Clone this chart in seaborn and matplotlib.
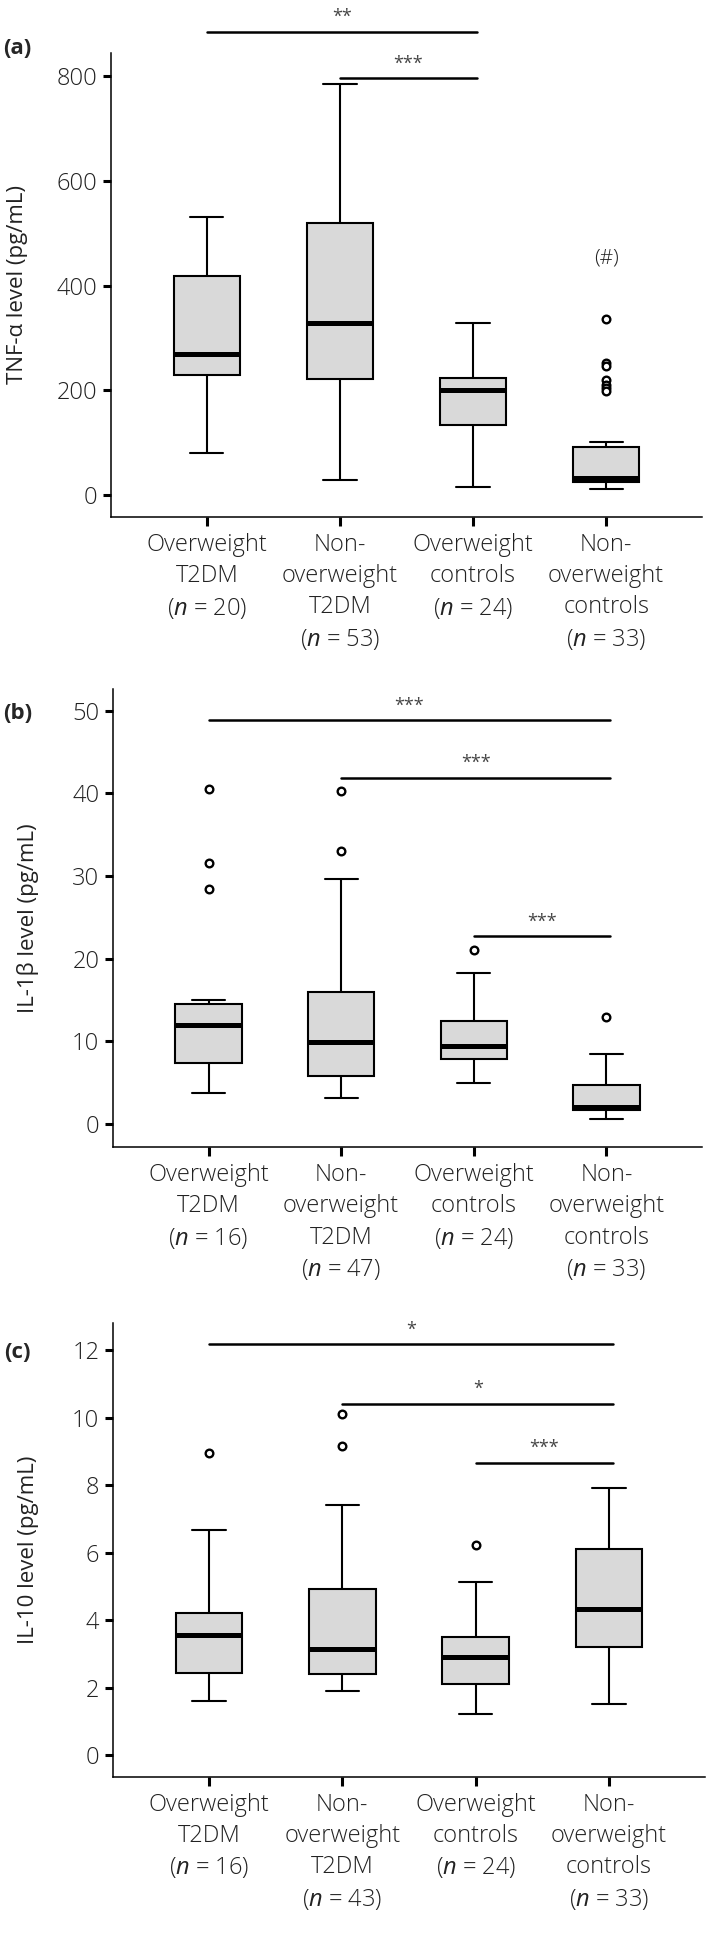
import matplotlib
matplotlib.use("Agg")
import matplotlib.pyplot as plt
import seaborn as sns
import pandas as pd

# group names (n is added per panel)
group_names = ["Overweight\nT2DM", "Non-\noverweight\nT2DM",
               "Overweight\ncontrols", "Non-\noverweight\ncontrols"]

# (a) TNF-alpha: lower whisker, Q1, median, Q3, upper whisker
tnf_n = [20, 53, 24, 33]
tnf_box = [[81, 230, 269, 418, 531],
           [28, 221, 328, 520, 786],
           [15, 134, 200, 224, 328],
           [11, 25, 33, 91, 101]]
tnf_out = [[], [], [], [337, 252, 247, 219, 211, 204, 198]]
tnf_ticks = [0, 200, 400, 600, 800]
tnf_sig = [(0, 2, 885, "**"), (1, 2, 796, "***")]

# (b) IL-1beta
il1b_n = [16, 47, 24, 33]
il1b_box = [[3.75, 7.4, 12.0, 14.5, 15.0],
            [3.2, 5.8, 9.9, 16.0, 29.6],
            [5.0, 7.9, 9.4, 12.5, 18.3],
            [0.6, 1.65, 2.1, 4.75, 8.5]]
il1b_out = [[40.5, 31.6, 28.4], [40.3, 33.0], [21.0], [13.0]]
il1b_ticks = [0, 10, 20, 30, 40, 50]
il1b_sig = [(0, 3, 48.8, "***"), (1, 3, 41.9, "***"), (2, 3, 22.7, "***")]

# (c) IL-10
il10_n = [16, 43, 24, 33]
il10_box = [[1.61, 2.42, 3.57, 4.22, 6.66],
            [1.91, 2.40, 3.16, 4.92, 7.40],
            [1.22, 2.10, 2.92, 3.51, 5.12],
            [1.52, 3.21, 4.32, 6.11, 7.92]]
il10_out = [[8.97], [10.12, 9.17], [6.22], []]
il10_ticks = [0, 2, 4, 6, 8, 10, 12]
il10_sig = [(0, 3, 12.18, "*"), (1, 3, 10.42, "*"), (2, 3, 8.67, "***")]

sns.set_theme(style="ticks")
plt.rcParams["font.family"] = ["Open Sans", "DejaVu Sans"]
plt.rcParams["mathtext.fontset"] = "custom"
plt.rcParams["mathtext.it"] = "Open Sans:italic"
plt.rcParams["mathtext.rm"] = "Open Sans"

W, H = 709, 1942
fig = plt.figure(figsize=(W / 100, H / 100), dpi=100)


def add_axes(left, right, top, bottom):
    return fig.add_axes([left / W, 1 - bottom / H, (right - left) / W, (bottom - top) / H])


def draw_panel(ax, box, outliers, n, yticks, ylim, ylabel, sig, tag, tag_y, ylabel_x):
    labels = [f"{g}\n($\\mathit{{n}}$ = {k})" for g, k in zip(group_names, n)]
    df = pd.DataFrame({"group": [l for l, b in zip(labels, box) for _ in b],
                       "value": [v for b in box for v in b]})
    sns.boxplot(data=df, x="group", y="value", order=labels, whis=(0, 100),
                width=0.5, color="#d9d9d9", saturation=1, linecolor="black",
                linewidth=1.5, fliersize=0, medianprops={"linewidth": 3.6}, ax=ax)
    out = pd.DataFrame({"group": [l for l, o in zip(labels, outliers) for _ in o],
                        "value": [v for o in outliers for v in o]})
    sns.stripplot(data=out, x="group", y="value", order=labels, jitter=False,
                  size=5.5, color="white", edgecolor="black", linewidth=1.7, ax=ax)

    for i, j, y, stars in sig:
        ax.plot([i, j + 0.03], [y, y], color="black", lw=1.8, clip_on=False)
        ax.annotate(stars, xy=((i + j + 0.03) / 2, y), xytext=(0, 7),
                    textcoords="offset points", ha="center", va="baseline",
                    fontsize=13, color="#444444", annotation_clip=False)

    ax.set_xlim(-0.72, 3.72)
    ax.set_ylim(*ylim)
    ax.set_yticks(yticks)
    ax.set_xlabel("")
    ax.set_ylabel(ylabel, fontsize=16, color="#222222")
    ax.yaxis.set_label_coords(ylabel_x, 0.5)
    ax.yaxis.label.set_va("center")
    sns.despine(ax=ax)
    for s in ["left", "bottom"]:
        ax.spines[s].set_linewidth(1.1)
        ax.spines[s].set_color("black")
    ax.tick_params(axis="y", length=5.8, width=2.2, pad=4, labelsize=17,
                   colors="black", labelcolor="#222222")
    ax.tick_params(axis="x", length=6.5, width=2.2, pad=5, labelsize=17,
                   colors="black", labelcolor="#222222")
    for lbl in ax.get_xticklabels() + ax.get_yticklabels():
        lbl.set_fontweight("light")
    for lbl in ax.get_xticklabels():
        lbl.set_linespacing(1.4)
    fig.text(17.5 / W, 1 - tag_y / H, tag, fontsize=16, fontweight="bold",
             ha="center", va="center")


ax_a = add_axes(111, 702, 52.7, 517)
draw_panel(ax_a, tnf_box, tnf_out, tnf_n, tnf_ticks, (-42, 845),
           "TNF-α level (pg/mL)", tnf_sig, "(a)", 48, -0.159)
ax_a.text(3, 452, "(#)", ha="center", va="center", fontsize=15, fontweight="light",
          color="#222222")

ax_b = add_axes(113, 702, 689, 1147.3)
draw_panel(ax_b, il1b_box, il1b_out, il1b_n, il1b_ticks, (-2.8, 52.6),
           "IL-1β level (pg/mL)", il1b_sig, "(b)", 713, -0.145)

ax_c = add_axes(113, 705, 1323.3, 1776.7)
draw_panel(ax_c, il10_box, il10_out, il10_n, il10_ticks, (-0.64, 12.8),
           "IL-10 level (pg/mL)", il10_sig, "(c)", 1352, -0.142)

fig.savefig("out.png", dpi=100)
